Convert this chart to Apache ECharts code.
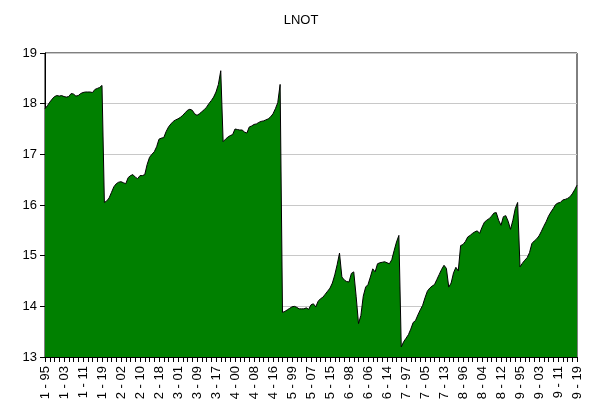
<!DOCTYPE html>
<html>
<head>
<meta charset="utf-8">
<script src="https://cdn.jsdelivr.net/npm/echarts@6/dist/echarts.min.js"></script>
<style>
  html, body { margin: 0; padding: 0; background: #fff; }
  #chart { width: 602px; height: 419px; }
</style>
</head>
<body>
<div id="chart"></div>
<script>
// panel: 9 cross sections x 1995..2019
const sections = ['1', '2', '3', '4', '5', '6', '7', '8', '9']
const years = ['95', '96', '97', '98', '99', '00', '01', '02', '03', '04', '05', '06', '07',
  '08', '09', '10', '11', '12', '13', '14', '15', '16', '17', '18', '19']

const lnot1 = [17.90, 17.96, 18.03, 18.09, 18.14, 18.16, 18.15, 18.16, 18.14, 18.13, 18.14, 18.20, 18.19,
  18.15, 18.16, 18.20, 18.22, 18.23, 18.23, 18.23, 18.22, 18.28, 18.30, 18.32, 18.36]
const lnot2 = [16.05, 16.08, 16.14, 16.25, 16.36, 16.42, 16.45, 16.46, 16.44, 16.42, 16.54, 16.58, 16.60,
  16.55, 16.52, 16.58, 16.58, 16.60, 16.80, 16.94, 17.00, 17.05, 17.15, 17.30, 17.32]
const lnot3 = [17.33, 17.45, 17.54, 17.60, 17.65, 17.68, 17.70, 17.73, 17.77, 17.82, 17.87, 17.89, 17.87,
  17.80, 17.77, 17.80, 17.84, 17.88, 17.93, 18.00, 18.06, 18.13, 18.23, 18.38, 18.65]
const lnot4 = [17.25, 17.30, 17.34, 17.37, 17.39, 17.50, 17.49, 17.48, 17.48, 17.44, 17.42, 17.54, 17.56,
  17.59, 17.60, 17.63, 17.65, 17.66, 17.68, 17.70, 17.74, 17.80, 17.90, 18.02, 18.38]
const lnot5 = [13.88, 13.90, 13.93, 13.96, 13.99, 14.00, 13.98, 13.95, 13.95, 13.95, 13.97, 13.94, 14.03,
  14.05, 13.99, 14.10, 14.15, 14.18, 14.24, 14.30, 14.36, 14.46, 14.62, 14.82, 15.05]
const lnot6 = [14.58, 14.52, 14.49, 14.48, 14.65, 14.68, 14.20, 13.66, 13.82, 14.20, 14.38, 14.43, 14.58,
  14.74, 14.68, 14.84, 14.86, 14.87, 14.88, 14.86, 14.84, 14.92, 15.10, 15.27, 15.40]
const lnot7 = [13.20, 13.30, 13.37, 13.44, 13.55, 13.68, 13.72, 13.83, 13.93, 14.02, 14.17, 14.30, 14.36,
  14.40, 14.43, 14.53, 14.63, 14.73, 14.81, 14.75, 14.38, 14.46, 14.66, 14.77, 14.70]
const lnot8 = [15.20, 15.22, 15.28, 15.37, 15.40, 15.44, 15.47, 15.49, 15.44, 15.56, 15.66, 15.70, 15.73,
  15.78, 15.84, 15.85, 15.70, 15.60, 15.77, 15.79, 15.68, 15.52, 15.70, 15.93, 16.05]
const lnot9 = [14.78, 14.85, 14.91, 14.96, 15.06, 15.24, 15.29, 15.33, 15.39, 15.48, 15.58, 15.67, 15.78,
  15.86, 15.93, 16.01, 16.04, 16.05, 16.10, 16.11, 16.13, 16.16, 16.22, 16.30, 16.39]

const categories = []
sections.forEach(s => years.forEach(y => categories.push(s + ' - ' + y)))
const lnot = [].concat(lnot1, lnot2, lnot3, lnot4, lnot5, lnot6, lnot7, lnot8, lnot9)

const chart = echarts.init(document.getElementById('chart'))

const font = 'Liberation Sans, Arial, sans-serif'

chart.setOption({
  animation: false,
  title: {
    text: 'LNOT',
    left: 'center',
    top: 9,
    textStyle: { fontFamily: font, fontSize: 13, fontWeight: 'normal', color: '#000' }
  },
  grid: {
    left: 45,
    right: 25,
    top: 53,
    bottom: 62,
    show: true,
    borderColor: '#000',
    borderWidth: 1
  },
  xAxis: {
    type: 'category',
    data: categories,
    boundaryGap: false,
    axisLine: { lineStyle: { color: '#000', width: 1 } },
    axisTick: { interval: 1, length: 5, lineStyle: { color: '#000' } },
    axisLabel: {
      interval: 7,
      rotate: 90,
      margin: 9,
      fontFamily: font,
      fontSize: 13,
      color: '#000'
    },
    splitLine: { show: false }
  },
  yAxis: {
    type: 'value',
    min: 13,
    max: 19,
    interval: 1,
    axisLine: { show: true, lineStyle: { color: '#000', width: 1 } },
    axisTick: { show: true, length: 5, lineStyle: { color: '#000' } },
    axisLabel: { fontFamily: font, fontSize: 13, color: '#000', margin: 8 },
    splitLine: { lineStyle: { color: '#c8c8c8', width: 1 } }
  },
  series: [
    {
      name: 'LNOT',
      type: 'line',
      data: lnot,
      symbol: 'none',
      lineStyle: { color: '#000', width: 1 },
      areaStyle: { color: '#008000', opacity: 1, origin: 'start' },
      z: 3
    }
  ]
})
</script>
</body>
</html>
